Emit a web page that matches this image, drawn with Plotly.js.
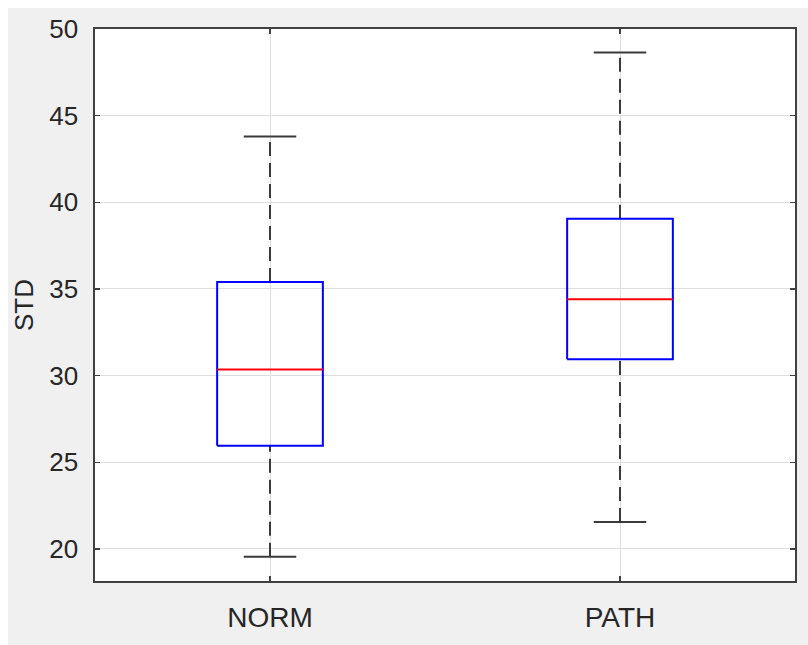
<!DOCTYPE html>
<html>
<head>
<meta charset="utf-8">
<script src="https://cdn.plot.ly/plotly-3.0.1.min.js"></script>
<style>
  html, body { margin: 0; padding: 0; background: #ffffff; }
  #chart { position: absolute; left: 8px; top: 8px; width: 800px; height: 637px; }
</style>
</head>
<body>
<div id="chart"></div>
<script>
// Data
const categories = ["NORM", "PATH"];
const lowerWhisker = [19.55, 21.55];
const q1Values = [25.95, 30.95];
const medianValues = [30.35, 34.4];
const q3Values = [35.4, 39.05];
const upperWhisker = [43.8, 48.65];
const yTicks = [20, 25, 30, 35, 40, 45, 50];

const boxHalf = 0.151;
const capHalf = 0.075;
const traces = [];
categories.forEach((cat, i) => {
  const c = i + 0.5;
  const lo = lowerWhisker[i], q1 = q1Values[i], md = medianValues[i], q3 = q3Values[i], hi = upperWhisker[i];
  traces.push({x: [c, c], y: [q3, hi], mode: 'lines', line: {color: '#3a3a3a', width: 2, dash: '14px,7px'}, hoverinfo: 'skip', showlegend: false});
  traces.push({x: [c, c], y: [lo, q1], mode: 'lines', line: {color: '#3a3a3a', width: 2, dash: '14px,7px'}, hoverinfo: 'skip', showlegend: false});
  traces.push({x: [c - capHalf, c + capHalf], y: [hi, hi], mode: 'lines', line: {color: '#3a3a3a', width: 2}, hoverinfo: 'skip', showlegend: false});
  traces.push({x: [c - capHalf, c + capHalf], y: [lo, lo], mode: 'lines', line: {color: '#3a3a3a', width: 2}, hoverinfo: 'skip', showlegend: false});
  traces.push({x: [c - boxHalf, c + boxHalf, c + boxHalf, c - boxHalf, c - boxHalf], y: [q1, q1, q3, q3, q1], mode: 'lines', line: {color: '#0000ff', width: 2}, hoverinfo: 'skip', showlegend: false, name: cat});
  traces.push({x: [c - boxHalf, c + boxHalf], y: [md, md], mode: 'lines', line: {color: '#ff0000', width: 2}, hoverinfo: 'skip', showlegend: false});
});

const axisCommon = {
  showline: true, linecolor: '#404040', linewidth: 1.6, mirror: 'ticks',
  ticks: 'inside', ticklen: 5, tickcolor: '#404040', tickwidth: 1.2,
  showgrid: true, gridcolor: '#dedede', gridwidth: 1, zeroline: false,
  tickfont: {family: 'Liberation Sans, Arial, sans-serif', size: 26, color: '#262626'}
};

const layout = {
  width: 800, height: 637,
  paper_bgcolor: '#f0f0f0', plot_bgcolor: '#ffffff',
  margin: {l: 87, r: 13, t: 21, b: 64},
  showlegend: false,
  xaxis: Object.assign({}, axisCommon, {
    range: [0, 2], tickvals: categories.map((_, i) => i + 0.5), ticktext: categories,
    ticklabelstandoff: 11,
    tickfont: {family: 'Liberation Sans, Arial, sans-serif', size: 28, color: '#262626'}
  }),
  yaxis: Object.assign({}, axisCommon, {
    range: [18.15, 50], tickvals: yTicks, ticktext: yTicks.map(String),
    ticklabelstandoff: 10,
    title: {text: 'STD', font: {family: 'Liberation Sans, Arial, sans-serif', size: 26, color: '#262626'}, standoff: 8}
  })
};

Plotly.newPlot('chart', traces, layout, {displayModeBar: false, staticPlot: true});
</script>
</body>
</html>
